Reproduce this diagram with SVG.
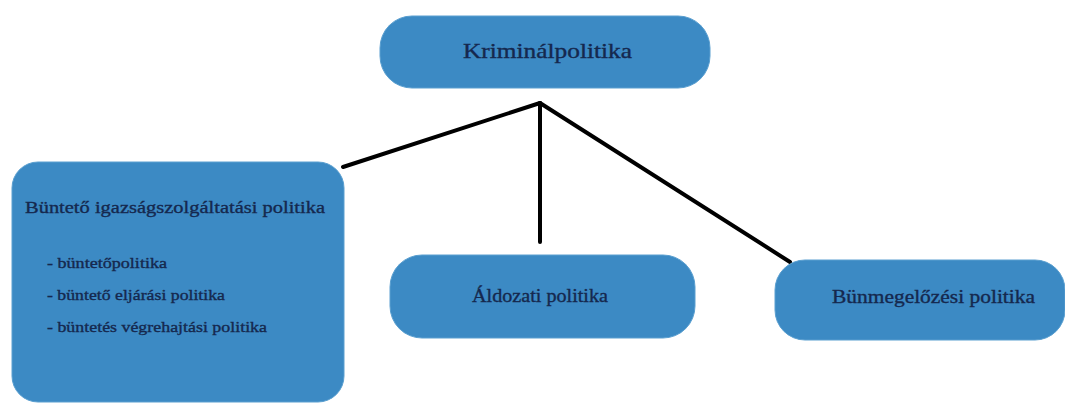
<svg xmlns="http://www.w3.org/2000/svg" width="1065" height="403" viewBox="0 0 1065 403">
<style>
.node{fill:#3c8ac4;stroke:#5a9fd0;stroke-width:1}
.t{font-family:"Liberation Serif","Times New Roman",serif;fill:#15284e;stroke:#15284e;stroke-width:0.35}
.conn{stroke:#000;stroke-width:4;fill:none;stroke-linecap:round}
</style>
<rect width="1065" height="403" fill="#fff"/>
<g id="connectors">
<line class="conn" x1="540" y1="103" x2="343" y2="167"/>
<line class="conn" x1="540" y1="103" x2="540" y2="242"/>
<line class="conn" x1="540" y1="103" x2="790" y2="262"/>
</g>
<g id="n-krim">
<rect class="node" x="380" y="16" width="330" height="72" rx="32"/>
<text class="t" x="463" y="58" font-size="21" textLength="169" lengthAdjust="spacingAndGlyphs">Kriminálpolitika</text>
</g>
<g id="n-buntet">
<rect class="node" x="12" y="162" width="332" height="240" rx="26"/>
<text class="t" x="25" y="213" font-size="17.5" textLength="300" lengthAdjust="spacingAndGlyphs">Büntető igazságszolgáltatási politika</text>
<text class="t" x="47" y="268" font-size="15" textLength="120" lengthAdjust="spacingAndGlyphs">- büntetőpolitika</text>
<text class="t" x="47" y="300" font-size="15" textLength="178" lengthAdjust="spacingAndGlyphs">- büntető eljárási politika</text>
<text class="t" x="47" y="332" font-size="15" textLength="220" lengthAdjust="spacingAndGlyphs">- büntetés végrehajtási politika</text>
</g>
<g id="n-aldozati">
<rect class="node" x="390" y="255" width="305" height="83" rx="32"/>
<text class="t" x="472" y="302" font-size="19" textLength="136" lengthAdjust="spacingAndGlyphs">Áldozati politika</text>
</g>
<g id="n-bunmeg">
<rect class="node" x="775" y="260" width="290" height="80" rx="30"/>
<text class="t" x="832" y="303" font-size="18" textLength="203" lengthAdjust="spacingAndGlyphs">Bünmegelőzési politika</text>
</g>
</svg>
